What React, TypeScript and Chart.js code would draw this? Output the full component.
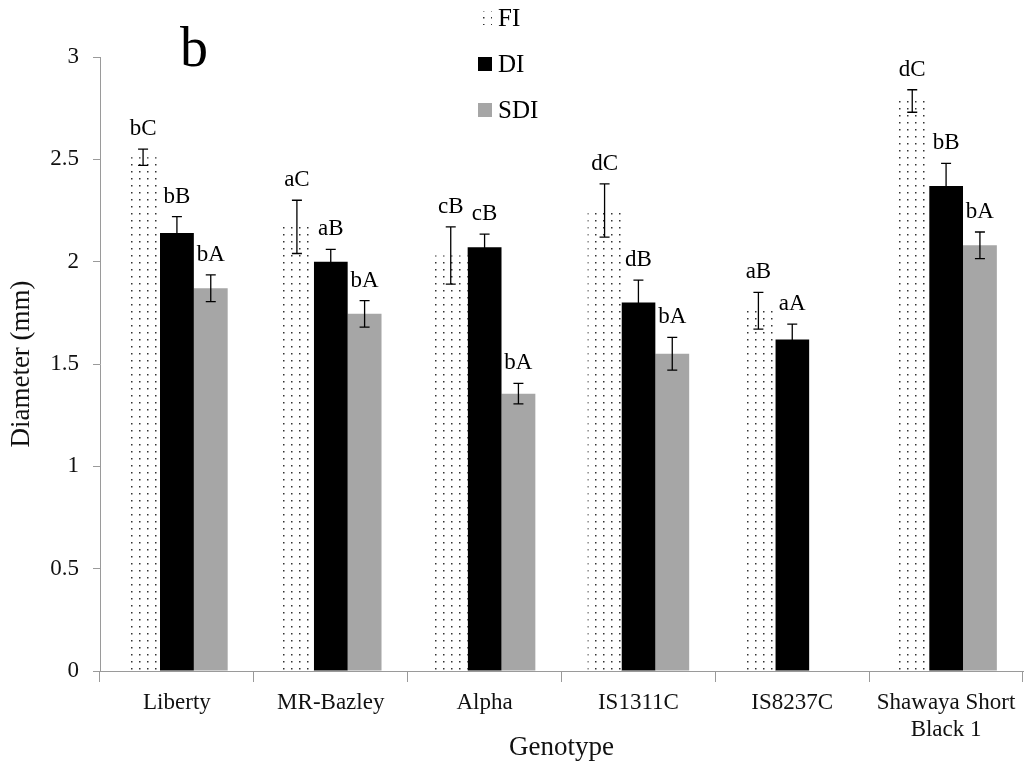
import React, { useEffect, useRef } from "react";
import { Chart, registerables } from "chart.js";

Chart.register(...registerables);

const categories: (string | string[])[] = [
  "Liberty",
  "MR-Bazley",
  "Alpha",
  "IS1311C",
  "IS8237C",
  ["Shawaya Short", "Black 1"],
];
const seriesNames = ["FI", "DI", "SDI"];
const fiValues = [2.51, 2.17, 2.03, 2.25, 1.76, 2.785];
const diValues = [2.14, 2.0, 2.07, 1.8, 1.62, 2.37];
const sdiValues: (number | null)[] = [1.87, 1.745, 1.355, 1.55, null, 2.08];
const fiErrors = [0.04, 0.13, 0.14, 0.13, 0.09, 0.055];
const diErrors = [0.08, 0.06, 0.065, 0.11, 0.075, 0.11];
const sdiErrors: (number | null)[] = [0.065, 0.065, 0.05, 0.08, null, 0.065];
const fiLetters = ["bC", "aC", "cB", "dC", "aB", "dC"];
const diLetters = ["bB", "aB", "cB", "dB", "aA", "bB"];
const sdiLetters: (string | null)[] = ["bA", "bA", "bA", "bA", null, "bA"];
const yTicks = [0, 0.5, 1, 1.5, 2, 2.5, 3];

const SERIF = "'Liberation Serif', 'Times New Roman', serif";

function makeDotPattern(ctx: CanvasRenderingContext2D): CanvasPattern | string {
  const c = document.createElement("canvas");
  c.width = 8;
  c.height = 7;
  const g = c.getContext("2d");
  if (!g) return "#fff";
  g.fillStyle = "#ffffff";
  g.fillRect(0, 0, 8, 7);
  g.fillStyle = "#333333";
  g.fillRect(3, 3, 1.5, 1.5);
  return ctx.createPattern(c, "repeat") || "#fff";
}

export default function App() {
  const ref = useRef<HTMLCanvasElement | null>(null);

  useEffect(() => {
    const canvas = ref.current;
    if (!canvas) return;
    const ctx = canvas.getContext("2d");
    if (!ctx) return;
    const pattern = makeDotPattern(ctx);
    const errs = [fiErrors, diErrors, sdiErrors];
    const letters = [fiLetters, diLetters, sdiLetters];

    const overlay = {
      id: "overlay",
      afterDatasetsDraw(chart: any) {
        const c = chart.ctx as CanvasRenderingContext2D;
        const y = chart.scales.y;
        c.save();
        chart.data.datasets.forEach((ds: any, di: number) => {
          const meta = chart.getDatasetMeta(di);
          meta.data.forEach((el: any, i: number) => {
            const v = ds.data[i];
            const e = errs[di][i];
            if (v == null || e == null) return;
            const x = el.x;
            const yt = y.getPixelForValue(v + e);
            const yb = y.getPixelForValue(v - e);
            c.strokeStyle = "#000";
            c.lineWidth = 1.3;
            c.beginPath();
            c.moveTo(x, yt);
            c.lineTo(x, yb);
            c.moveTo(x - 5, yt);
            c.lineTo(x + 5, yt);
            c.moveTo(x - 5, yb);
            c.lineTo(x + 5, yb);
            c.stroke();
            const t = letters[di][i];
            if (t) {
              c.fillStyle = "#000";
              c.font = `23px ${SERIF}`;
              c.textAlign = "center";
              c.textBaseline = "middle";
              c.fillText(t, x, yt - 20);
            }
          });
        });
        // panel label
        c.fillStyle = "#000";
        c.font = `56px ${SERIF}`;
        c.textAlign = "left";
        c.textBaseline = "alphabetic";
        c.fillText("b", 180, 66);
        // legend
        const fills: any[] = [pattern, "#000000", "#a6a6a6"];
        const centers = [18, 64, 110];
        seriesNames.forEach((n, k) => {
          const cy = centers[k];
          c.fillStyle = fills[k];
          c.fillRect(478, cy - 7, 14, 14);
          c.fillStyle = "#000";
          c.font = `25px ${SERIF}`;
          c.textAlign = "left";
          c.textBaseline = "middle";
          c.fillText(n, 498, cy + 1);
        });
        c.restore();
      },
    };

    const chart = new Chart(canvas, {
      type: "bar",
      data: {
        labels: categories,
        datasets: [
          { label: seriesNames[0], data: fiValues, backgroundColor: pattern as any, borderWidth: 0 },
          { label: seriesNames[1], data: diValues, backgroundColor: "#000000", borderWidth: 0 },
          { label: seriesNames[2], data: sdiValues, backgroundColor: "#a6a6a6", borderWidth: 0 },
        ],
      },
      options: {
        responsive: false,
        animation: false,
        layout: { padding: { left: 0, top: 57, right: 4, bottom: 0 } },
        datasets: { bar: { barPercentage: 1, categoryPercentage: 0.66 } },
        plugins: {
          legend: { display: false },
          tooltip: { enabled: false },
        },
        scales: {
          x: {
            offset: true,
            afterFit: (s: any) => {
              s.height = 98;
            },
            grid: {
              display: true,
              offset: true,
              drawOnChartArea: false,
              drawTicks: true,
              tickLength: 11,
              color: "#9a9a9a",
            },
            border: { color: "#9a9a9a", width: 1 },
            ticks: {
              color: "#111",
              font: { family: SERIF, size: 23 },
              padding: 7,
              maxRotation: 0,
              autoSkip: false,
            },
            title: {
              display: true,
              text: "Genotype",
              color: "#111",
              font: { family: SERIF, size: 27 },
              padding: 5,
            },
          },
          y: {
            min: 0,
            max: 3,
            afterFit: (s: any) => {
              s.width = 100;
            },
            afterBuildTicks: (s: any) => {
              s.ticks = yTicks.map((v) => ({ value: v }));
            },
            grid: {
              display: true,
              drawOnChartArea: false,
              drawTicks: true,
              tickLength: 7,
              color: "#9a9a9a",
            },
            border: { color: "#9a9a9a", width: 1 },
            ticks: {
              color: "#111",
              font: { family: SERIF, size: 23 },
              padding: 14,
              callback: (v: any) => String(v),
            },
            title: {
              display: true,
              text: "Diameter (mm)",
              color: "#111",
              font: { family: SERIF, size: 27 },
              padding: 6,
            },
          },
        },
      },
      plugins: [overlay],
    });

    return () => chart.destroy();
  }, []);

  return (
    <div style={{ position: "absolute", left: 0, top: 0, background: "#fff" }}>
      <canvas ref={ref} width={1027} height={769} />
    </div>
  );
}
